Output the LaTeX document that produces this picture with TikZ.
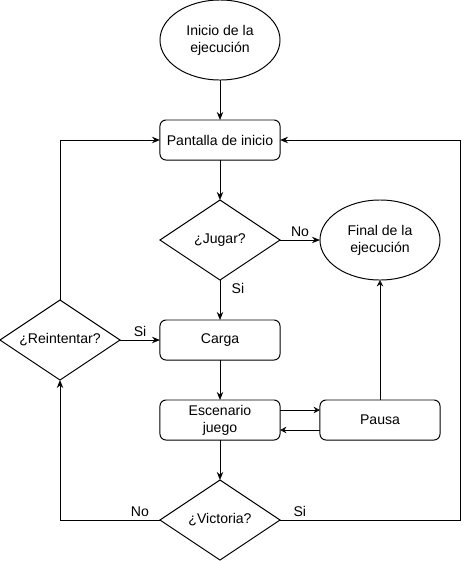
\documentclass[tikz,border=0pt]{standalone}
\usepackage{fontspec}
\setmainfont{Liberation Sans}
\usetikzlibrary{shapes.geometric,arrows.meta,calc}

\tikzset{
  base/.style={draw,line width=0.7pt,inner sep=0pt,outer sep=0pt,align=center},
  proc/.style={base,rectangle,rounded corners=0.15cm,minimum width=3cm,minimum height=1cm},
  decision/.style={base,diamond,aspect=1.5,minimum width=3cm,minimum height=2cm},
  terminal/.style={base,ellipse,minimum width=3cm,minimum height=2cm},
  flow/.style={line width=0.7pt,-{Stealth[length=2mm,width=1.6mm]}},
  openflow/.style={line width=0.7pt,-{Stealth[open,length=1.6mm,width=1.6mm]}},
  lbl/.style={inner sep=2pt}
}

\begin{document}
\begin{tikzpicture}[x=0.025cm,y=-0.025cm,
    every node/.append style={font=\fontsize{10}{12}\selectfont}]
  \useasboundingbox (0,0) rectangle (469,561);

  % nodes
  \node[terminal] (inicio) at (220,40) {Inicio de la\\ejecución};
  \node[proc] (pantalla) at (220,140) {Pantalla de inicio};
  \node[decision] (jugar) at (220,240) {¿Jugar?};
  \node[terminal] (final) at (380,240) {Final de la\\ejecución};
  \node[proc] (carga) at (220,340) {Carga};
  \node[decision] (reint) at (60,340) {¿Reintentar?};
  \node[proc] (escenario) at (220,420) {Escenario\\juego};
  \node[proc] (pausa) at (380,420) {Pausa};
  \node[decision] (victoria) at (220,520) {¿Victoria?};

  % main flow
  \draw[flow] (inicio) -- (pantalla);
  \draw[flow] (pantalla) -- (jugar);
  \draw[flow] (jugar) -- node[lbl,above] (jugarno) {No} (final);
  \draw[flow] (jugar) -- node[lbl,pos=0.2,right,xshift=6pt] (jugarsi) {Si} (carga);
  \draw[flow] (carga) -- (escenario);
  \draw[flow] (escenario) -- (victoria);

  % pause
  \draw[openflow] ($(escenario.east)+(0,-10)$) -- ($(pausa.west)+(0,-10)$);
  \draw[openflow] ($(pausa.west)+(0,10)$) -- ($(escenario.east)+(0,10)$);
  \draw[openflow] (pausa) -- (final);

  % loops back
  \draw[flow] (victoria.west) -| node[lbl,pos=0.1,above] (vicno) {No} (reint.south);
  \draw[flow] (victoria.east) -- node[lbl,pos=0.11,above] (vicsi) {Si} ++(180,0) |- (pantalla.east);
  \draw[flow] (reint.north) |- (pantalla.west);
  \draw[flow] (reint) -- node[lbl,above] (reintsi) {Si} (carga);
\end{tikzpicture}
\end{document}
